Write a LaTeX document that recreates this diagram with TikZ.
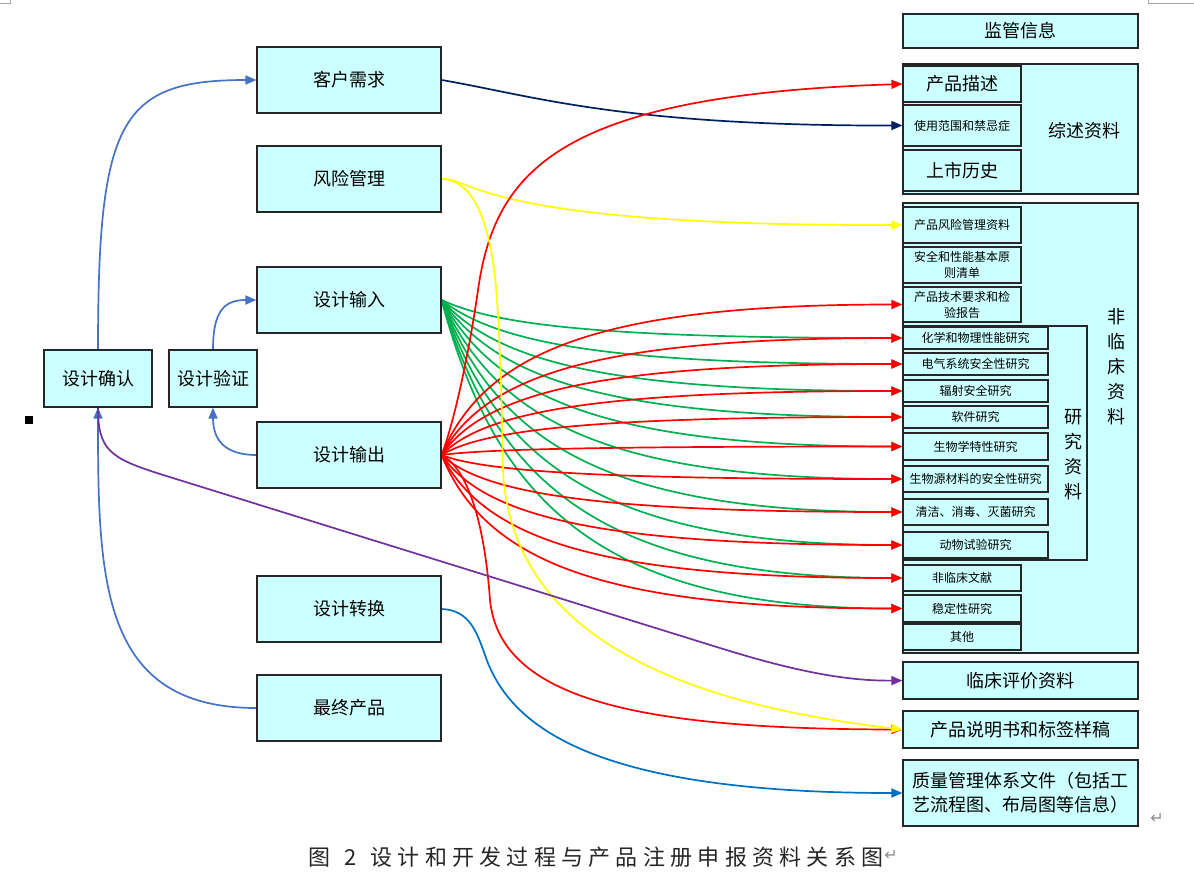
\documentclass[tikz,border=0pt]{standalone}
\usepackage{fontspec}
\usepackage{pgf, tikz}
\usetikzlibrary{arrows.meta}
\newfontfamily\cjk{Noto Sans CJK SC}
\newfontfamily\capfont[LetterSpace=24]{Noto Sans CJK SC}
\newfontfamily\symfont{DejaVu Sans}
\pgfdeclarelayer{bglayer}
\pgfdeclarelayer{edgelayer}
\pgfdeclarelayer{nodelayer}
\pgfsetlayers{bglayer,edgelayer,nodelayer,main}
\definecolor{boxfill}{RGB}{204,255,255}
\definecolor{linkgreen}{RGB}{0,176,80}
\definecolor{linkred}{RGB}{255,0,0}
\definecolor{linkyellow}{RGB}{255,255,0}
\definecolor{linknavy}{RGB}{0,32,96}
\definecolor{linkpurple}{RGB}{112,48,160}
\definecolor{linkblue}{RGB}{0,112,192}
\definecolor{linksteel}{RGB}{68,114,196}
\tikzstyle{box}=[rectangle, fill=boxfill, draw=black!85, line width=1.2pt, inner sep=0pt, font=\cjk\fontsize{18}{24}\selectfont]
\tikzstyle{stagebox}=[box, minimum width=184pt, minimum height=66pt]
\tikzstyle{widebox}=[box, minimum width=235pt]
\tikzstyle{itembox}=[box, minimum width=118pt, align=center, font=\cjk\fontsize{12}{16}\selectfont]
\tikzstyle{studybox}=[itembox, minimum width=145pt]
\tikzstyle{boxtitle}=[inner sep=0pt, align=center, font=\cjk\fontsize{18}{25}\selectfont]
\tikzstyle{edge}=[line width=1.7pt, -{Triangle[length=11pt,width=9pt]}]

\begin{document}
\begin{tikzpicture}[x=1pt, y=-1pt]
			\useasboundingbox (0,0) rectangle (1194,892);
			\begin{pgfonlayer}{bglayer}
			\fill [white] (0,0) rectangle (1194,892);
			\end{pgfonlayer}
			\begin{pgfonlayer}{nodelayer}
			% design process
			\node [style=stagebox] (0) at (349, 80) {客户需求};
			\node [style=stagebox] (1) at (349, 179) {风险管理};
			\node [style=stagebox] (2) at (349, 300) {设计输入};
			\node [style=stagebox] (3) at (349, 455) {设计输出};
			\node [style=stagebox] (4) at (349, 609) {设计转换};
			\node [style=stagebox] (5) at (349, 708) {最终产品};
			\node [style=box, minimum width=108pt, minimum height=57pt] (6) at (98, 378.5) {设计确认};
			\node [style=box, minimum width=88pt, minimum height=57pt] (7) at (213, 378.5) {设计验证};
			% registration files
			\node [style=widebox, minimum height=34pt] (8) at (1020.5, 31) {监管信息};
			\node [style=widebox, minimum height=130pt] (9) at (1020.5, 129) {};
			\node [style=itembox, minimum height=36pt, font=\cjk\fontsize{18}{24}\selectfont] (10) at (962, 84) {产品描述};
			\node [style=itembox, minimum height=41pt] (11) at (962, 125.5) {使用范围和禁忌症};
			\node [style=itembox, minimum height=41pt, font=\cjk\fontsize{18}{24}\selectfont] (12) at (962, 170.5) {上市历史};
			\node [style=widebox, minimum height=450pt] (13) at (1020.5, 428) {};
			\node [style=itembox, minimum height=36pt] (14) at (962, 225) {产品风险管理资料};
			\node [style=itembox, minimum height=36pt] (15) at (962, 265) {安全和性能基本原\\则清单};
			\node [style=itembox, minimum height=35pt] (16) at (962, 304.5) {产品技术要求和检\\验报告};
			\node [style=box, minimum width=184pt, minimum height=234pt] (17) at (995, 443) {};
			\node [style=studybox, minimum height=22pt] (18) at (975.5, 338) {化学和物理性能研究};
			\node [style=studybox, minimum height=22pt] (19) at (975.5, 364) {电气系统安全性研究};
			\node [style=studybox, minimum height=22pt] (20) at (975.5, 391) {辐射安全研究};
			\node [style=studybox, minimum height=22pt] (21) at (975.5, 417) {软件研究};
			\node [style=studybox, minimum height=27pt] (22) at (975.5, 446.5) {生物学特性研究};
			\node [style=studybox, minimum height=26pt] (23) at (975.5, 479) {生物源材料的安全性研究};
			\node [style=studybox, minimum height=26pt] (24) at (975.5, 512) {清洁、消毒、灭菌研究};
			\node [style=studybox, minimum height=26pt] (25) at (975.5, 545) {动物试验研究};
			\node [style=itembox, minimum height=26pt] (26) at (962, 578) {非临床文献};
			\node [style=itembox, minimum height=27pt] (27) at (962, 608.5) {稳定性研究};
			\node [style=itembox, minimum height=26pt] (28) at (962, 637) {其他};
			\node [style=widebox, minimum height=37pt] (29) at (1020.5, 680.5) {临床评价资料};
			\node [style=widebox, minimum height=37pt] (30) at (1020.5, 729.5) {产品说明书和标签样稿};
			\node [style=widebox, minimum height=66pt, align=left] (31) at (1020.5, 793) {质量管理体系文件（包括工\\艺流程图、布局图等信息）};
			\node [style=boxtitle] (32) at (1084, 131) {综述资料};
			\node [style=boxtitle] (33) at (1116, 367) {非\\临\\床\\资\\料};
			\node [style=boxtitle] (34) at (1073, 455) {研\\究\\资\\料};
			% caption and marks
			\node [inner sep=0pt, text=black!85, font=\capfont\fontsize{22}{22}\selectfont] (35) at (596, 857) {图 \,2\, 设计和开发过程与产品注册申报资料关系图};
			\node [inner sep=0pt, text=black!45, font=\symfont\fontsize{16}{16}\selectfont] (36) at (891, 855) {↵};
			\node [inner sep=0pt, text=black!45, font=\symfont\fontsize{16}{16}\selectfont] (37) at (1157, 818) {↵};
			\fill [black] (25, 416) rectangle (33, 424);
			\draw [black!35, line width=0.8pt] (0, 3) -- (10, 3) -- (10, 0);
			\draw [black!35, line width=0.8pt] (1148, 0) -- (1148, 3) -- (1194, 3);
			\end{pgfonlayer}
			\begin{pgfonlayer}{edgelayer}
			% verification and validation loops
			\draw [style=edge, linksteel] (6.north) .. controls (98, 120) and (120, 80) .. (0.west);
			\draw [style=edge, linksteel] (7.north) .. controls (213, 310) and (225, 300) .. (2.west);
			\draw [style=edge, linksteel] (3.west) .. controls (225, 455) and (213, 440) .. (7.south);
			\draw [style=edge, linksteel] (5.west) .. controls (100, 708) and (98, 580) .. (6.south);
			% inputs to files
			\draw [style=edge, linknavy] (0.east) .. controls (530, 95) and (620, 126) .. (11.west);
			\draw [style=edge, linkyellow] (1.east) .. controls (475, 178) and (480, 226) .. (14.west);
			\foreach \n/\y in {18/338, 19/364, 20/391, 21/417, 22/446.5, 23/479, 24/512, 25/545, 26/578, 27/608.5}
				\draw [style=edge, linkgreen] (2.east) .. controls (495, {300+0.65*(\y-300)}) and (600, \y) .. (\n.west);
			\foreach \n/\y in {16/304.5, 18/338, 19/364, 20/391, 21/417, 22/446.5, 23/479, 24/512, 25/545, 26/578, 27/608.5}
				\draw [style=edge, linkred] (3.east) .. controls (485, {455+0.7*(\y-455)}) and (605, \y) .. (\n.west);
			\draw [style=edge, linkred] (3.east) .. controls (455, 420) and (470, 347) .. (478, 290) .. controls (495, 170) and (560, 95) .. (10.west);
			\draw [style=edge, linkred] (3.east) .. controls (470, 470) and (485, 530) .. (490, 600) .. controls (500, 700) and (640, 729) .. (30.west);
			\draw [style=edge, linkyellow] (1.east) .. controls (480, 180) and (493, 240) .. (497, 300) .. controls (501, 360) and (502, 420) .. (503, 470) .. controls (510, 620) and (650, 700) .. (30.west);
			\draw [style=edge, linkpurple] (6.south) .. controls (98, 450) and (110, 458) .. (160, 474) -- (720, 648) .. controls (800, 673) and (850, 681) .. (29.west);
			\draw [style=edge, linkblue] (4.east) .. controls (470, 610) and (477, 633) .. (485, 655) .. controls (510, 730) and (600, 793) .. (31.west);
			\end{pgfonlayer}
\end{tikzpicture}
\end{document}
